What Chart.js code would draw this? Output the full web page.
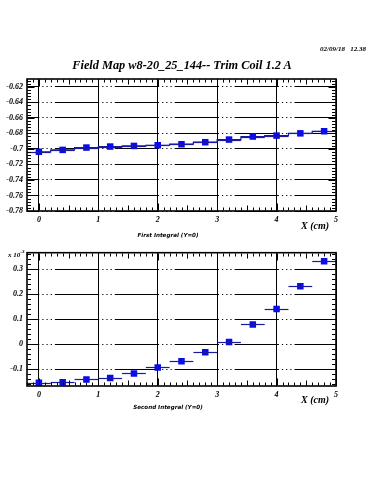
<!DOCTYPE html>
<html>
<head>
<meta charset="utf-8">
<script src="https://cdn.jsdelivr.net/npm/chart.js@4.4.1/dist/chart.umd.min.js"></script>
<style>
  html,body{margin:0;padding:0;background:#fff;width:375px;height:500px;overflow:hidden;}
  .box{position:absolute;left:0;width:375px;}
  .t{position:absolute;white-space:nowrap;font-family:"Liberation Serif",serif;font-style:italic;font-weight:bold;color:#000;line-height:1;}
</style>
</head>
<body>
<div class="box" style="top:0;height:250px;"><canvas id="c1" width="375" height="250"></canvas></div>
<div class="box" style="top:240px;height:180px;"><canvas id="c2" width="375" height="180"></canvas></div>

<div class="t" style="right:9px;top:46px;font-size:7px;">02/09/18&nbsp;&nbsp;&nbsp;12.38</div>
<div class="t" style="left:182px;top:59px;font-size:12.3px;transform:translateX(-50%);">Field Map w8-20_25_144-- Trim Coil 1.2 A</div>
<div class="t" style="left:301px;top:221px;font-size:10px;">X (cm)</div>
<div class="t" style="left:168px;top:233px;font-size:5.6px;font-family:'DejaVu Sans',sans-serif;transform:translateX(-50%);">First Integral (Y=0)</div>
<div class="t" style="left:301px;top:395px;font-size:10px;">X (cm)</div>
<div class="t" style="left:168px;top:405px;font-size:5.6px;font-family:'DejaVu Sans',sans-serif;transform:translateX(-50%);">Second Integral (Y=0)</div>
<div class="t" style="left:8px;top:249px;font-size:7px;">x 10<sup style="font-size:5px;vertical-align:4px;">-3</sup></div>

<script>
// ---- data ----
const xPositions = [0, 0.4, 0.8, 1.2, 1.6, 2.0, 2.4, 2.8, 3.2, 3.6, 4.0, 4.4, 4.8];
const xHalfWidth = 0.2;
const firstIntegral = [-0.7037, -0.7013, -0.6983, -0.6970, -0.6962, -0.6953, -0.6940, -0.6914, -0.6880, -0.6841, -0.6829, -0.6800, -0.6773];
const secondIntegral = [-0.154, -0.152, -0.141, -0.135, -0.117, -0.093, -0.068, -0.032, 0.009, 0.079, 0.141, 0.232, 0.332]; // x 10^-3
const xTickValues = [0, 1, 2, 3, 4, 5];
const topYTicks = [-0.78, -0.76, -0.74, -0.72, -0.70, -0.68, -0.66, -0.64, -0.62];
const bottomYTicks = [-0.1, 0, 0.1, 0.2, 0.3];

const tickFont = {family: "'Liberation Serif', serif", style: 'italic', weight: 'bold', size: 8};

function fmt(v){ return String(Number(v.toFixed(3))); }

const rootFrame = {
  id: 'rootFrame',
  afterDatasetsDraw(chart, args, o) {
    const {ctx, chartArea: a, scales: {x, y}} = chart;
    ctx.save();
    // horizontal error bars
    ctx.strokeStyle = '#1a1aa0';
    ctx.lineWidth = 1.2;
    const ds = chart.data.datasets[0].data;
    ds.forEach(p => {
      const py = Math.round(y.getPixelForValue(p.y)) + 0.5;
      ctx.beginPath();
      ctx.moveTo(x.getPixelForValue(p.x - xHalfWidth), py);
      ctx.lineTo(Math.min(a.right, x.getPixelForValue(p.x + xHalfWidth)), py);
      ctx.stroke();
    });
    // ticks (inward, all four sides)
    ctx.strokeStyle = '#000';
    ctx.lineWidth = 1;
    const L = Math.round(a.left) + 0.5, R = Math.round(a.right) - 0.5;
    const T = Math.round(a.top) + 0.5, B = Math.round(a.bottom) - 0.5;
    ctx.beginPath();
    for (let i = Math.ceil(x.min / 0.1 - 1e-6); i * 0.1 <= x.max + 1e-6; i++) {
      const len = (i % 10 === 0) ? 7 : (i % 5 === 0 ? 5 : 3);
      const px = Math.round(x.getPixelForValue(i * 0.1)) + 0.5;
      ctx.moveTo(px, B); ctx.lineTo(px, B - len);
      ctx.moveTo(px, T); ctx.lineTo(px, T + len);
    }
    const ys = o.yMinor, ym = o.yMajor;
    for (let i = Math.ceil(y.min / ys - 1e-6); i * ys <= y.max + 1e-6; i++) {
      const v = i * ys;
      const major = Math.abs(v / ym - Math.round(v / ym)) < 1e-6;
      const len = major ? 7 : 3.5;
      const py = Math.round(y.getPixelForValue(v)) + 0.5;
      ctx.moveTo(L, py); ctx.lineTo(L + len, py);
      ctx.moveTo(R, py); ctx.lineTo(R - len, py);
    }
    ctx.stroke();
    // frame
    ctx.lineWidth = 1.6;
    ctx.strokeRect(a.left, a.top, a.right - a.left, a.bottom - a.top);
    ctx.restore();
  }
};

function makeChart(id, values, yMin, yMax, yTicks, yStep, yMinor, pad, xAxisH, line) {
  return new Chart(document.getElementById(id), {
    type: 'scatter',
    data: {
      datasets: [{
        data: xPositions.map((xv, i) => ({x: xv, y: values[i]})),
        showLine: line,
        stepped: line ? 'middle' : false,
        borderColor: '#1a1aa0',
        borderWidth: 1.2,
        pointStyle: 'rect',
        pointRadius: 4.6,
        pointBackgroundColor: '#0a0aee',
        pointBorderColor: '#0a0aee',
        pointBorderWidth: 0
      }]
    },
    options: {
      responsive: false,
      animation: false,
      events: [],
      layout: {padding: pad},
      plugins: {legend: {display: false}, tooltip: {enabled: false}, rootFrame: {yMinor: yMinor, yMajor: yStep}},
      scales: {
        x: {
          type: 'linear', min: -0.2, max: 5,
          afterFit(s){ s.height = xAxisH; },
          afterBuildTicks(s){ s.ticks = xTickValues.map(v => ({value: v})); },
          ticks: {font: tickFont, color: '#000', padding: 4, maxRotation: 0, autoSkip: false, callback: v => fmt(v)},
          grid: {color: '#000', lineWidth: 1, drawTicks: false},
          border: {display: false}
        },
        y: {
          type: 'linear', min: yMin, max: yMax,
          afterFit(s){ s.width = 27; },
          afterBuildTicks(s){ s.ticks = yTicks.map(v => ({value: v})); },
          ticks: {font: tickFont, color: '#000', padding: 4, autoSkip: false, callback: v => fmt(v)},
          grid: {color: '#000', lineWidth: 1, drawTicks: false},
          border: {display: false, dash: [44.3, 3, 1.2, 3, 1.2, 3, 1.2, 3], dashOffset: 32}
        }
      }
    },
    plugins: [rootFrame]
  });
}

makeChart('c1', firstIntegral, -0.78, -0.61, topYTicks, 0.02, 0.004, {top: 79, right: 39, left: 0, bottom: 0}, 39, true);
makeChart('c2', secondIntegral, -0.167, 0.366, bottomYTicks, 0.1, 0.02, {top: 12.7, right: 39, left: 0, bottom: 0}, 34, false);
</script>
</body>
</html>
